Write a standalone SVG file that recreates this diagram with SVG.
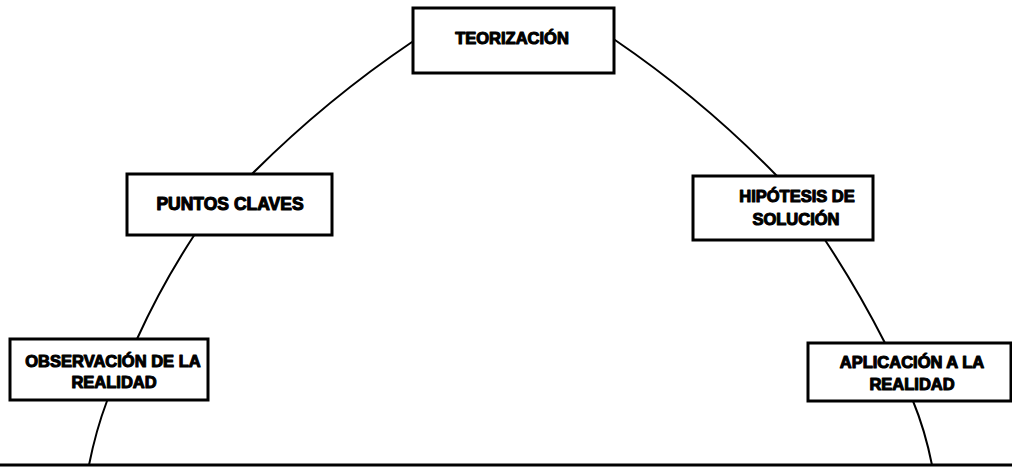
<svg xmlns="http://www.w3.org/2000/svg" width="1012" height="468" viewBox="0 0 1012 468">
  <style>
    .box { fill: #fff; stroke: #000; stroke-width: 3; }
    .lbl { font-family: "Liberation Sans", Arial, sans-serif; font-weight: bold; font-size: 16.5px; fill: #000; stroke: #000; stroke-width: 1.1; stroke-linejoin: round; text-anchor: middle; }
    .link { fill: none; stroke: #000; stroke-width: 2; stroke-linecap: round; }
  </style>
  <rect width="1012" height="468" fill="#fff"/>

  <!-- arc segments joining the stages, plus the ground line -->
  <g id="connectors">
    <line x1="0" y1="465" x2="1012" y2="465" stroke="#000" stroke-width="3"/>
    <path class="link" d="M89 465 Q96 430 107 401"/>
    <path class="link" d="M137 339 Q162 284 195 234"/>
    <path class="link" d="M252 174 Q326 100 412 42"/>
    <path class="link" d="M615 40 Q703 100 777 176"/>
    <path class="link" d="M825 240 Q858 290 885 343"/>
    <path class="link" d="M913 401 Q925 430 932 465"/>
  </g>

  <g id="teorizacion">
    <rect class="box" x="413" y="8" width="201" height="65"/>
    <text class="lbl" x="512" y="44">TEORIZACIÓN</text>
  </g>

  <g id="puntos-claves">
    <rect class="box" x="127" y="174" width="205" height="61"/>
    <text class="lbl" x="230" y="210" style="font-size:17.5px">PUNTOS CLAVES</text>
  </g>

  <g id="hipotesis">
    <rect class="box" x="693" y="176" width="180" height="64"/>
    <text class="lbl" x="797" y="202">HIPÓTESIS DE</text>
    <text class="lbl" x="796" y="225">SOLUCIÓN</text>
  </g>

  <g id="observacion">
    <rect class="box" x="10" y="339" width="198" height="61"/>
    <text class="lbl" x="113" y="367">OBSERVACIÓN DE LA</text>
    <text class="lbl" x="114" y="388">REALIDAD</text>
  </g>

  <g id="aplicacion">
    <rect class="box" x="808" y="343" width="203" height="58"/>
    <text class="lbl" x="912" y="368">APLICACIÓN A LA</text>
    <text class="lbl" x="912" y="390">REALIDAD</text>
  </g>
</svg>
